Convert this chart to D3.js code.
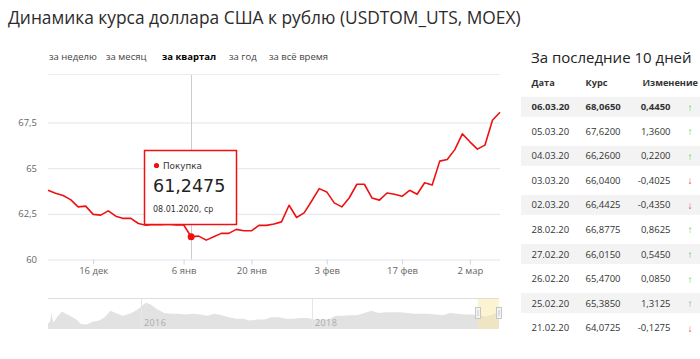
<!DOCTYPE html>
<html>
<head>
<meta charset="utf-8">
<script src="https://cdn.jsdelivr.net/npm/d3@7"></script>
<style>
  body { margin: 0; background: #fff; }
  svg { display: block; font-family: "Open Sans", sans-serif; }
</style>
</head>
<body>
<div id="chart"></div>
<script>
// Chart texts
const titleText = "Динамика курса доллара США к рублю (USDTOM_UTS, MOEX)";
const tabLabels = ["за неделю", "за месяц", "за квартал", "за год", "за всё время"];
const activeTab = "за квартал";

// Main series: trading days of the quarter and the USD/RUB rate
const dates = [
  "2019-12-06", "2019-12-09", "2019-12-10", "2019-12-11", "2019-12-12", "2019-12-13",
  "2019-12-16", "2019-12-17", "2019-12-18", "2019-12-19", "2019-12-20",
  "2019-12-23", "2019-12-24", "2019-12-25", "2019-12-26", "2019-12-27",
  "2019-12-30", "2020-01-03", "2020-01-06", "2020-01-08", "2020-01-09", "2020-01-10",
  "2020-01-13", "2020-01-14", "2020-01-15", "2020-01-16", "2020-01-17",
  "2020-01-20", "2020-01-21", "2020-01-22", "2020-01-23", "2020-01-24",
  "2020-01-27", "2020-01-28", "2020-01-29", "2020-01-30", "2020-01-31",
  "2020-02-03", "2020-02-04", "2020-02-05", "2020-02-06", "2020-02-07",
  "2020-02-10", "2020-02-11", "2020-02-12", "2020-02-13", "2020-02-14",
  "2020-02-17", "2020-02-18", "2020-02-19", "2020-02-20", "2020-02-21",
  "2020-02-25", "2020-02-26", "2020-02-27", "2020-02-28",
  "2020-03-02", "2020-03-03", "2020-03-04", "2020-03-05", "2020-03-06"
];
const rates = [
  63.79, 63.63, 63.50, 63.28, 62.88, 62.92,
  62.47, 62.43, 62.66, 62.37, 62.25,
  62.25, 61.97, 61.88, 61.92, 61.90,
  61.93, 61.89, 61.90, 61.2475, 61.28, 61.06,
  61.24, 61.43, 61.43, 61.65, 61.57,
  61.57, 61.87, 61.87, 61.94, 62.06,
  62.97, 62.30, 62.55, 63.20, 63.88,
  63.70, 63.10, 62.88, 63.38, 64.12,
  64.12, 63.37, 63.25, 63.64, 63.57,
  63.46, 63.79, 63.57, 64.20, 64.0725,
  65.385, 65.47, 66.015, 66.8775,
  66.4425, 66.04, 66.26, 67.62, 68.065
];
const hoverIndex = 19;
const seriesName = "Покупка";

// Axis ticks
const yTicks = [60, 62.5, 65, 67.5];
const xTickDates = ["2019-12-16", "2020-01-06", "2020-01-20", "2020-02-03", "2020-02-17", "2020-03-02"];
const monthNames = ["янв", "фев", "мар", "апр", "мая", "июн", "июл", "авг", "сен", "окт", "ноя", "дек"];
const dayNames = ["вс", "пн", "вт", "ср", "чт", "пт", "сб"];

// Navigator: long history of the rate
const navDates = [
  "2014-12-01", "2014-12-10", "2014-12-16", "2014-12-19", "2014-12-25",
  "2015-01-10", "2015-01-30", "2015-02-15", "2015-03-10", "2015-04-01", "2015-04-20",
  "2015-05-15", "2015-06-10", "2015-07-10", "2015-07-30", "2015-08-25", "2015-09-15",
  "2015-10-15", "2015-11-15", "2015-12-15", "2016-01-21", "2016-02-10", "2016-03-10",
  "2016-04-10", "2016-05-10", "2016-06-10", "2016-07-10", "2016-08-10", "2016-09-10",
  "2016-10-10", "2016-11-10", "2016-12-10", "2017-01-10", "2017-02-10", "2017-03-10",
  "2017-04-10", "2017-05-10", "2017-06-10", "2017-07-10", "2017-08-10", "2017-09-10",
  "2017-10-10", "2017-11-10", "2017-12-10", "2018-01-10", "2018-02-10", "2018-03-10",
  "2018-04-10", "2018-05-10", "2018-06-10", "2018-07-10", "2018-08-10", "2018-09-10",
  "2018-10-10", "2018-11-10", "2018-12-10", "2019-01-10", "2019-02-10", "2019-03-10",
  "2019-04-10", "2019-05-10", "2019-06-10", "2019-07-10", "2019-08-10", "2019-09-10",
  "2019-10-10", "2019-11-10", "2019-12-10", "2020-01-10", "2020-02-10", "2020-02-28",
  "2020-03-06"
];
const navValues = [
  52, 54, 67, 59, 53,
  61, 68, 65, 61, 57, 51,
  50, 54, 56, 60, 69, 66,
  62, 65, 70, 80, 78, 71,
  66, 65, 65, 64, 65, 64,
  62, 65, 63, 60, 58, 58,
  55.5, 57, 57, 60, 60, 58,
  58, 59, 59, 57, 57, 57,
  62, 62, 63, 63, 66, 69,
  66, 67, 67, 67, 66, 65,
  65, 65, 64, 63, 66, 65,
  64, 64, 63, 61, 64, 67,
  68
];
const navYears = ["2016-01-01", "2018-01-01"];

// Table: last 10 days
const tableTitle = "За последние 10 дней";
const tableHeader = ["Дата", "Курс", "Изменение"];
const tableDates = ["06.03.20", "05.03.20", "04.03.20", "03.03.20", "02.03.20",
                    "28.02.20", "27.02.20", "26.02.20", "25.02.20", "21.02.20"];
const tableRates = [68.065, 67.62, 66.26, 66.04, 66.4425, 66.8775, 66.015, 65.47, 65.385, 64.0725];
const tableChanges = [0.445, 1.36, 0.22, -0.4025, -0.435, 0.8625, 0.545, 0.085, 1.3125, -0.1275];

// Russian number format
const ru = d3.formatLocale({ decimal: ",", thousands: " ", grouping: [3], currency: ["", ""], minus: "-" });
const fmt4 = ru.format(".4f");
const fmtTick = ru.format("~g");
const parse = d3.timeParse("%Y-%m-%d");

const width = 700, height = 359;
const red = "#ee1111";
const textGray = "#666";

let svg = d3.select("#chart")
  .append("svg")
  .attr("width", width)
  .attr("height", height);

// Title, fitted to the reference width
let title = svg.append("text")
  .attr("x", 8)
  .attr("y", 24)
  .attr("fill", "#2b2b2b")
  .style("font-size", "19px")
  .text(titleText);
let titleLen = title.node().getComputedTextLength();
title.style("font-size", (19 * 513 / titleLen) + "px");

// Period tabs
const tabX = [49, 106, 162, 229, 269];
svg.append("g")
  .selectAll("text")
  .data(tabLabels)
  .join("text")
  .attr("x", (d, i) => tabX[i])
  .attr("y", 60)
  .attr("fill", d => d === activeTab ? "#000" : "#444")
  .style("font-size", "9.5px")
  .style("font-weight", d => d === activeTab ? 700 : 400)
  .text(d => d);

svg.append("line")
  .attr("x1", 48).attr("x2", 500)
  .attr("y1", 74.5).attr("y2", 74.5)
  .attr("stroke", "#ececec");

// Scales
let x = d3.scalePoint().domain(dates).range([48, 500]);
let y = d3.scaleLinear().domain([60, 67.5]).range([259.5, 122.5]);

// Y gridlines and labels
let yAxis = d3.axisLeft(y)
  .tickValues(yTicks)
  .tickSize(-452)
  .tickPadding(11)
  .tickFormat(fmtTick);

let gy = svg.append("g")
  .attr("transform", "translate(48,0)")
  .call(yAxis);
gy.select(".domain").remove();
gy.selectAll(".tick line").attr("stroke", "#e2e5ec");
gy.selectAll(".tick text")
  .attr("fill", textGray)
  .style("font-family", "'Open Sans', sans-serif")
  .style("font-size", "9.5px");

// X axis ticks
let xAxis = d3.axisBottom(x)
  .tickValues(xTickDates)
  .tickSize(5)
  .tickPadding(3)
  .tickFormat(d => {
    let dt = parse(d);
    return dt.getDate() + " " + monthNames[dt.getMonth()];
  });

let gx = svg.append("g")
  .attr("transform", "translate(0,259.5)")
  .call(xAxis);
gx.select(".domain").remove();
gx.selectAll(".tick line").attr("stroke", "#ccd6eb");
gx.selectAll(".tick text")
  .attr("fill", textGray)
  .style("font-family", "'Open Sans', sans-serif")
  .style("font-size", "9.5px");

// Crosshair at hovered point
let hx = x(dates[hoverIndex]);
let hy = y(rates[hoverIndex]);
svg.append("line")
  .attr("x1", Math.round(hx) + 0.5).attr("x2", Math.round(hx) + 0.5)
  .attr("y1", 75).attr("y2", 259.5)
  .attr("stroke", "#cccccc");

// Value line
let valueLine = d3.line()
  .x((d, i) => x(dates[i]))
  .y(d => y(d));

svg.append("path")
  .datum(rates)
  .attr("fill", "none")
  .attr("stroke", red)
  .attr("stroke-width", 1.6)
  .attr("stroke-linejoin", "round")
  .attr("d", valueLine);

svg.append("circle")
  .attr("cx", hx)
  .attr("cy", hy)
  .attr("r", 3.5)
  .attr("fill", red);

// Tooltip
let tip = svg.append("g").attr("transform", "translate(144.5,150.5)");
tip.append("rect")
  .attr("width", 92)
  .attr("height", 74)
  .attr("fill", "#fff")
  .attr("stroke", red)
  .attr("stroke-width", 1.5);
tip.append("circle")
  .attr("cx", 12).attr("cy", 15)
  .attr("r", 2.6)
  .attr("fill", red);
tip.append("text")
  .attr("x", 18.5).attr("y", 18)
  .attr("fill", "#333")
  .style("font-family", "'DejaVu Sans', sans-serif")
  .style("font-size", "8.8px")
  .text(seriesName);
tip.append("text")
  .attr("x", 8.5).attr("y", 41.5)
  .attr("fill", "#222")
  .style("font-family", "'DejaVu Sans', sans-serif")
  .style("font-size", "17.5px")
  .text(fmt4(rates[hoverIndex]));
let hd = parse(dates[hoverIndex]);
tip.append("text")
  .attr("x", 8.5).attr("y", 61)
  .attr("fill", "#333")
  .style("font-family", "'DejaVu Sans', sans-serif")
  .style("font-size", "8px")
  .text(d3.timeFormat("%d.%m.%Y")(hd) + ", " + dayNames[hd.getDay()]);

// Navigator
let nx = d3.scaleTime()
  .domain([parse(navDates[0]), parse(navDates[navDates.length - 1])])
  .range([48, 499]);
let ny = d3.scaleLinear().domain([44, 86.5]).range([329, 298]);

let navArea = d3.area()
  .x((d, i) => nx(parse(navDates[i])))
  .y0(329)
  .y1(d => ny(d));

svg.append("path")
  .datum(navValues)
  .attr("fill", "#e2e2e2")
  .attr("d", navArea);

svg.append("line")
  .attr("x1", 48).attr("x2", 499)
  .attr("y1", 298.5).attr("y2", 298.5)
  .attr("stroke", "#dddddd");

let years = svg.append("g")
  .selectAll("g")
  .data(navYears)
  .join("g")
  .attr("transform", d => "translate(" + Math.round(nx(parse(d))) + ",0)");
years.append("line")
  .attr("x1", 0.5).attr("x2", 0.5)
  .attr("y1", 298.5).attr("y2", 329)
  .attr("stroke", "#e6e6e6");
years.append("text")
  .attr("x", 3)
  .attr("y", 326)
  .attr("fill", "#aaa")
  .style("font-size", "9px")
  .style("letter-spacing", "0.4px")
  .text(d => d.slice(0, 4));

// Selected range of the navigator
let selStart = nx(parse(dates[0]));
let selEnd = nx(parse(dates[dates.length - 1]));
svg.append("rect")
  .attr("x", selStart)
  .attr("y", 298.5)
  .attr("width", selEnd - selStart)
  .attr("height", 30.5)
  .attr("fill", "#f7e7a6")
  .attr("opacity", 0.5);

[selStart, selEnd].forEach(hxp => {
  svg.append("rect")
    .attr("x", Math.round(hxp) - 2.5)
    .attr("y", 307.5)
    .attr("width", 5)
    .attr("height", 11)
    .attr("fill", "#f4f4f4")
    .attr("stroke", "#bbb")
    .attr("stroke-width", 0.8);
  svg.append("line")
    .attr("x1", Math.round(hxp)).attr("x2", Math.round(hxp))
    .attr("y1", 310).attr("y2", 316)
    .attr("stroke", "#bbb")
    .attr("stroke-width", 0.8);
});

// Table of the last 10 days
let table = svg.append("g");
table.append("text")
  .attr("x", 531)
  .attr("y", 63)
  .attr("fill", "#222")
  .style("font-size", "15px")
  .text(tableTitle);

const colX = [531.5, 585.5];
const changeRight = 670.5;
const rowY0 = 106.7, rowStep = 24.55;

table.append("g")
  .selectAll("text")
  .data(tableHeader)
  .join("text")
  .attr("x", (d, i) => i < 2 ? colX[i] : 642.5)
  .attr("y", 85.5)
  .attr("fill", "#333")
  .style("font-size", "9.2px")
  .style("font-weight", 700)
  .text(d => d);

let rows = table.append("g")
  .selectAll("g")
  .data(tableDates)
  .join("g")
  .attr("transform", (d, i) => "translate(0," + (rowY0 + i * rowStep) + ")");

rows.append("rect")
  .attr("x", 521)
  .attr("y", -10)
  .attr("width", 179)
  .attr("height", 20)
  .attr("fill", (d, i) => i % 2 === 0 ? "#f3f3f3" : "#fff");

rows.append("text")
  .attr("x", colX[0])
  .attr("y", 3.5)
  .text(d => d);

rows.append("text")
  .attr("x", colX[1])
  .attr("y", 3.5)
  .text((d, i) => fmt4(tableRates[i]));

rows.append("text")
  .attr("x", changeRight)
  .attr("y", 3.5)
  .attr("text-anchor", "end")
  .text((d, i) => fmt4(tableChanges[i]));

rows.selectAll("text")
  .attr("fill", "#333")
  .style("font-size", "9.5px")
  .style("font-weight", function () {
    return d3.select(this.parentNode).datum() === tableDates[0] ? 700 : 400;
  });

rows.append("text")
  .attr("x", 690)
  .attr("y", 4)
  .attr("text-anchor", "middle")
  .attr("fill", (d, i) => tableChanges[i] >= 0 ? "#5cc45c" : "#e04040")
  .style("font-size", "10px")
  .text((d, i) => tableChanges[i] >= 0 ? "↑" : "↓");
</script>
</body>
</html>
